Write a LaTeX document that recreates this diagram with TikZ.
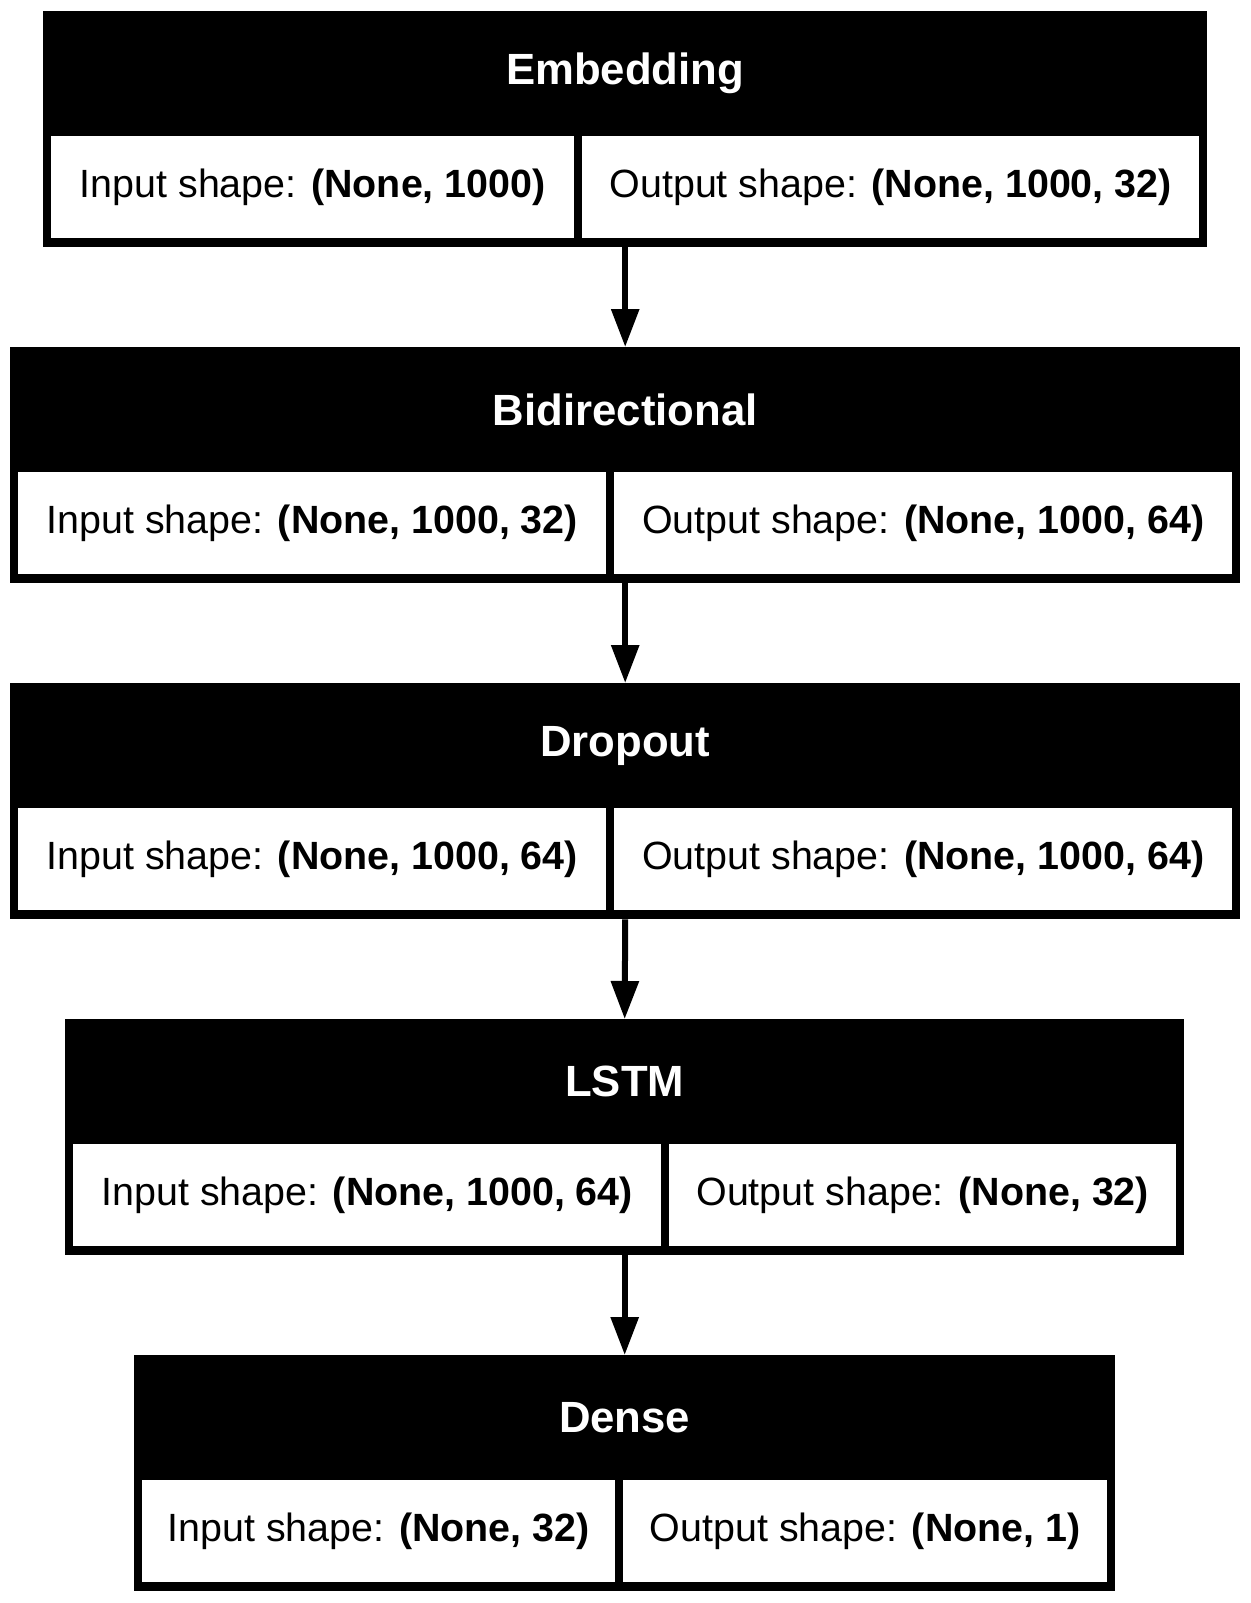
\documentclass[tikz,border=0pt]{standalone}
\usepackage{fontspec}
\setmainfont{Liberation Sans}
\usetikzlibrary{arrows.meta}
\tikzset{
  outerbox/.style={fill=black, inner sep=0pt, anchor=north west, minimum height=236pt},
  cellbox/.style={fill=white, inner sep=0pt, anchor=north west, minimum height=102pt, font=\fontsize{39.4}{46}\selectfont},
  titletext/.style={text=white, font=\fontsize{43.7}{50}\selectfont\bfseries},
  flow/.style={line width=6pt, -{Triangle[length=38pt, width=27pt]}}
}
\newcommand{\layer}[8]{
\node[outerbox, minimum width={(#4)-(#3)}] (#1) at (#3, -#2) {};
\node[titletext] (#1-name) at ([yshift=-62.5pt]#1.north) {#6};
\node[cellbox, minimum width={(#5)-(#3)-12}] (#1-in) at ([xshift=8pt, yshift=-125pt]#1.north west) {Input shape: \textbf{#7}};
\node[cellbox, minimum width={(#4)-(#5)-12}] (#1-out) at ([xshift={(#5)-(#3)+4}, yshift=-125pt]#1.north west) {Output shape: \textbf{#8}};
}

\begin{document}
\begin{tikzpicture}[x=1pt, y=1pt]
\useasboundingbox (0,0) rectangle (1250,-1603);
\layer{emb}{11}{43}{1207}{578}{Embedding}{(None, 1000)}{(None, 1000, 32)}
\layer{bidir}{347}{10}{1240}{610}{Bidirectional}{(None, 1000, 32)}{(None, 1000, 64)}
\layer{drop}{683}{10}{1240}{610}{Dropout}{(None, 1000, 64)}{(None, 1000, 64)}
\layer{lstm}{1019}{65}{1184}{665}{LSTM}{(None, 1000, 64)}{(None, 32)}
\layer{dense}{1355}{134}{1115}{619}{Dense}{(None, 32)}{(None, 1)}
\draw[flow] (emb.south) -- (bidir.north);
\draw[flow] (bidir.south) -- (drop.north);
\draw[flow] (drop.south) -- (lstm.north);
\draw[flow] (lstm.south) -- (dense.north);
\end{tikzpicture}
\end{document}
